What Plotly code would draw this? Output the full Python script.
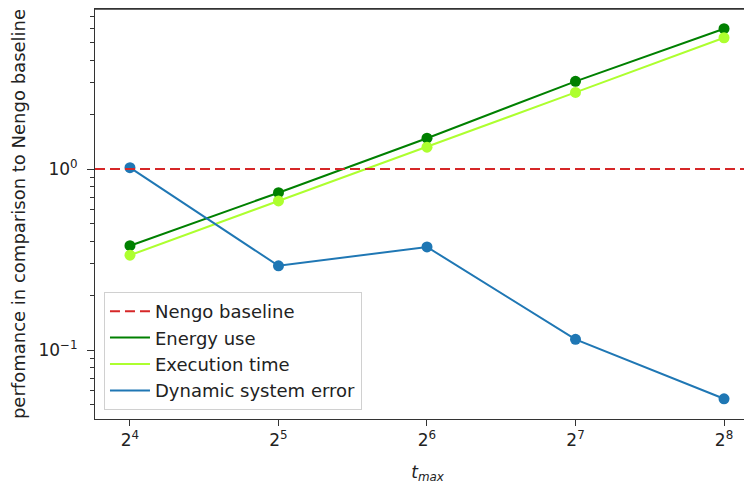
import plotly.graph_objects as go

# t_max values (log2 axis) and relative performance vs. Nengo baseline
t_max = [16, 32, 64, 128, 256]
energy_use = [0.377, 0.740, 1.48, 3.05, 5.96]
execution_time = [0.334, 0.666, 1.32, 2.65, 5.31]
dynamic_error = [1.017, 0.292, 0.371, 0.1146, 0.0538]
baseline = 1.0

x_tick_vals = [16, 32, 64, 128, 256]
x_tick_text = ["2<sup>4</sup>", "2<sup>5</sup>", "2<sup>6</sup>", "2<sup>7</sup>", "2<sup>8</sup>"]
y_tick_vals = [0.1, 1]
y_tick_text = ["10<sup>\u22121</sup>", "10<sup>0</sup>"]
y_minor_vals = [0.05, 0.06, 0.07, 0.08, 0.09,
                0.2, 0.3, 0.4, 0.5, 0.6, 0.7, 0.8, 0.9,
                2, 3, 4, 5, 6, 7]

RED = "#d62728"
GREEN = "#008000"
LIGHT_GREEN = "#adff2f"
BLUE = "#1f77b4"
FONT = "DejaVu Sans"

fig = go.Figure()

fig.add_hline(y=baseline, line=dict(color=RED, width=2, dash="10px,5px"))

series = [
    ("Energy use", energy_use, GREEN),
    ("Execution time", execution_time, LIGHT_GREEN),
    ("Dynamic system error", dynamic_error, BLUE),
]
for name, vals, color in series:
    fig.add_trace(go.Scatter(
        x=t_max, y=vals, mode="lines+markers", name=name, showlegend=False,
        line=dict(color=color, width=2), marker=dict(color=color, size=11),
    ))

# legend-only entries (lines without markers, as in matplotlib)
legend_items = [("Nengo baseline", RED, "10px,5px")] + [(n, c, "solid") for n, _, c in series]
for name, color, dash in legend_items:
    fig.add_trace(go.Scatter(
        x=[None], y=[None], mode="lines", name=name,
        line=dict(color=color, width=2, dash=dash),
    ))

# top spine of the axes box
fig.add_shape(type="line", xref="paper", yref="paper", x0=0, x1=1, y0=1, y1=1,
              line=dict(color="#333333", width=1.5))

# page body adds an 8px offset, margins compensate for it
fig.update_layout(
    width=752, height=485,
    margin=dict(l=87, r=0, t=1, b=74),
    plot_bgcolor="white", paper_bgcolor="white",
    font=dict(family=FONT, size=17, color="#222222"),
    showlegend=True,
    legend=dict(x=0.0135, y=0.022, xanchor="left", yanchor="bottom",
                bgcolor="rgba(255,255,255,0.8)", bordercolor="#d0d0d0",
                borderwidth=1, font=dict(size=18), tracegroupgap=0,
                itemwidth=40),
)
fig.update_xaxes(
    type="log", range=[1.13323, 2.48118], automargin=False,
    tickvals=x_tick_vals, ticktext=x_tick_text, tickfont=dict(size=17),
    ticks="outside", ticklen=6, tickcolor="#333333",
    showline=True, linecolor="#333333", linewidth=1, mirror=True,
    showgrid=False, zeroline=False,
    title=dict(text="<i>t</i><sub><i>max</i></sub>", standoff=16,
               font=dict(family=FONT, size=17)),
)
fig.update_yaxes(
    type="log", range=[-1.381, 0.884], automargin=False,
    tickvals=y_tick_vals, ticktext=y_tick_text, tickfont=dict(size=17),
    ticks="outside", ticklen=7, tickcolor="#333333", ticklabelstandoff=6,
    minor=dict(tickvals=y_minor_vals, ticks="outside", ticklen=4, tickcolor="#333333"),
    showline=True, linecolor="#333333", linewidth=1, mirror=False,
    showgrid=False, zeroline=False,
    title=dict(text="perfomance in comparison to Nengo baseline", standoff=13,
               font=dict(family=FONT, size=18)),
)

fig.write_html("out.html")
